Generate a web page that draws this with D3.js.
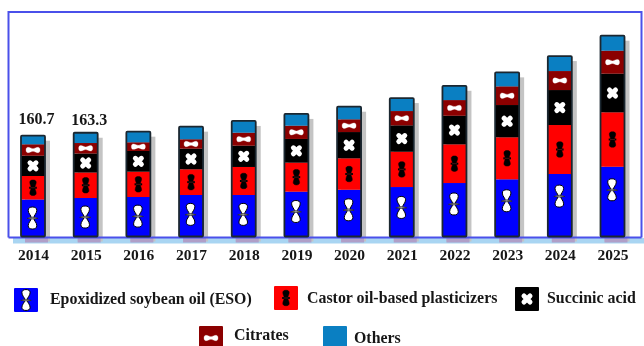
<!DOCTYPE html>
<html><head><meta charset="utf-8">
<script src="https://cdn.jsdelivr.net/npm/d3@7"></script>
<style>
html,body{margin:0;padding:0;background:#fff}
svg{display:block;filter:blur(0.35px)}
text{font-family:"Liberation Serif",serif;font-weight:700;fill:#161616}
</style></head><body><svg id="c" width="644" height="346"></svg>
<script>
const years=["2014","2015","2016","2017","2018","2019","2020","2021","2022","2023","2024","2025"];
const eso=[59.0,61.4,63.0,66.2,66.2,71.5,74.6,78.9,85.3,91.2,99.7,111.3];
const castor=[37.5,40.7,40.4,41.0,44.7,46.3,50.1,56.3,61.7,67.0,78.1,86.8];
const succinic=[32.4,30.3,33.0,32.9,34.0,37.8,41.9,42.1,45.6,51.5,55.8,61.6];
const citrates=[18.2,16.7,13.9,15.0,20.7,21.2,20.3,22.8,25.0,29.8,30.3,36.7];
const others=[13.7,16.4,16.9,20.1,18.7,18.7,20.1,20.7,22.8,22.3,23.9,23.9];
const seriesNames=["Epoxidized soybean oil (ESO)","Castor oil-based plasticizers","Succinic acid","Citrates","Others"];
const seriesColors=["#0000ff","#ff0000","#000000","#8b0000","#0a7fc2"];
const totalLabels=["160.7","163.3"];

const svg=d3.select("#c");
const x=d3.scalePoint().domain(years).range([33,612.5]);
const y=d3.scaleLinear().domain([0,360]).range([236.5,10.8]);
const barW=24;
const keys=[0,1,2,3,4];
const table=years.map((yr,i)=>({year:yr,0:eso[i],1:castor[i],2:succinic[i],3:citrates[i],4:others[i]}));
const stacked=d3.stack().keys(keys)(table);
const tops=years.map((_,i)=>stacked[4][i][1]);

const frame="#4a50ea";
svg.append("rect").attr("x",13).attr("y",238).attr("width",631).attr("height",5.5).attr("fill","#a9d5f2");
svg.append("path").attr("d","M8.5,237.5V12H641.5V237.5").attr("fill","none").attr("stroke",frame).attr("stroke-width",2);

svg.append("g").selectAll("rect").data(years).join("rect")
  .attr("x",d=>x(d)-barW/2+4).attr("y",(d,i)=>y(tops[i])+5)
  .attr("width",barW+1).attr("height",(d,i)=>y(0)-y(tops[i]))
  .attr("fill","#c4c4c4");
svg.append("g").selectAll("rect").data(years).join("rect")
  .attr("x",d=>x(d)-barW/2+4).attr("y",238).attr("width",barW-1).attr("height",4.5)
  .attr("fill","#b09fc8");
svg.append("path").attr("d","M8.5,237.5H641.5").attr("stroke",frame).attr("stroke-width",2).attr("fill","none");

svg.append("g").selectAll("g").data(stacked).join("g").attr("fill",(d,k)=>seriesColors[k])
  .selectAll("rect").data(d=>d).join("rect")
  .attr("x",d=>x(d.data.year)-barW/2).attr("width",barW)
  .attr("y",d=>y(d[1])).attr("height",d=>y(d[0])-y(d[1]));
svg.append("g").selectAll("rect").data(years).join("rect")
  .attr("x",d=>x(d)-barW/2).attr("y",(d,i)=>y(tops[i]))
  .attr("width",barW).attr("height",(d,i)=>y(0)-y(tops[i]))
  .attr("rx",1).attr("fill","none").attr("stroke","#1b2730").attr("stroke-width",1.8);

// two-lobed outline: height h, lobe width w, neck width n
const lobes=(h,w,n)=>{
  const half=sgn=>`C${sgn*n/2},${-h*.13} ${sgn*w/2},${-h*.2} ${sgn*w/2},${-h*.35}`;
  return `M${-n/2},0${half(-1)}C${-w/2},${-h*.46} ${-w*.28},${-h/2} 0,${-h/2}C${w*.28},${-h/2} ${w/2},${-h*.46} ${w/2},${-h*.35}C${w/2},${-h*.2} ${n/2},${-h*.13} ${n/2},0`+
    `C${n/2},${h*.13} ${w/2},${h*.2} ${w/2},${h*.35}C${w/2},${h*.46} ${w*.28},${h/2} 0,${h/2}C${-w*.28},${h/2} ${-w/2},${h*.46} ${-w/2},${h*.35}C${-w/2},${h*.2} ${-n/2},${h*.13} ${-n/2},0Z`;
};
const glyphs=[
  (g,s)=>{
    g.append("path").attr("d",lobes(22*s,8.6*s,2.6*s)).attr("fill","#fff").attr("stroke","#000").attr("stroke-width",1);
    g.append("path").attr("d",`M${-5.5*s},.4Q0,${-2.2*s} ${5.5*s},.4Q0,${1.6*s} ${-5.5*s},.4Z`).attr("fill","#aaa").attr("stroke","#222").attr("stroke-width",.7);
  },
  (g,s)=>{
    g.append("path").attr("d",lobes(15.5*s,6.4*s,3.6*s)).attr("fill","#000").attr("stroke","#000").attr("stroke-width",.5);
    g.append("rect").attr("x",-3.8*s).attr("y",-1*s).attr("width",7.6*s).attr("height",2*s).attr("fill","#000");
    g.append("path").attr("d",`M${-2.5*s},0H${2.5*s}`).attr("stroke","#b03030").attr("stroke-width",.4);
  },
  (g,s)=>{
    g.append("path").attr("d",`M${-3*s},${-3*s}L${3*s},${3*s}M${3*s},${-3*s}L${-3*s},${3*s}`)
      .attr("fill","none").attr("stroke","#fff").attr("stroke-width",5*s).attr("stroke-linecap","round");
  },
  (g,s)=>{
    g.append("path").attr("d",lobes(14*s,5.4*s,2.6*s)).attr("transform","rotate(90)").attr("fill","#fff").attr("stroke","#fff").attr("stroke-width",.3);
  },
  ()=>{}
];

stacked.forEach((layer,k)=>{
  layer.forEach(d=>{
    const h=y(d[0])-y(d[1]);
    const off=k===0?Math.max(0.87*h-14,h/2):h/2;
    const g=svg.append("g").attr("transform",`translate(${x(d.data.year)+(k===0?-.5:0)},${y(d[0])-off})`);
    glyphs[k](g,1);
  });
});

svg.append("g").selectAll("text").data(totalLabels).join("text")
  .attr("x",(d,i)=>x(years[i])+3.5).attr("y",(d,i)=>i===0?124:125)
  .attr("text-anchor","middle").attr("font-size",16).text(d=>d);

const ax=svg.append("g").attr("transform","translate(0,237)")
  .call(d3.axisBottom(x).tickSize(0).tickPadding(12));
ax.select(".domain").remove();
ax.selectAll("text").attr("font-size",15.5).attr("font-family",'"Liberation Serif",serif');

const legendSwatch=[[14,288],[274,286],[515,287],[199,326],[323,326]];
const legendText=[[50,304],[307,303],[547,303],[234,340],[354,342.5]];
seriesNames.forEach((n,k)=>{
  const [sx,sy]=legendSwatch[k];
  svg.append("rect").attr("x",sx).attr("y",sy).attr("width",24).attr("height",24).attr("rx",1).attr("fill",seriesColors[k]);
  const g=svg.append("g").attr("transform",`translate(${sx+12},${sy+12})`);
  glyphs[k](g,k===0?.95:1);
  svg.append("text").attr("x",legendText[k][0]).attr("y",legendText[k][1]).attr("font-size",15.9).text(n);
});
</script></body></html>
